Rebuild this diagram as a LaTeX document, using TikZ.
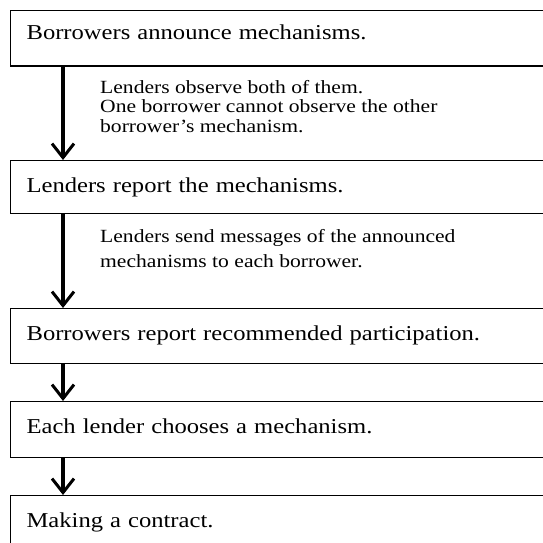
\documentclass[tikz,border=0pt]{standalone}
\usepackage{fontspec}
\setmainfont{Liberation Serif}[FakeStretch=1.16]
\usetikzlibrary{positioning, arrows.meta}

\begin{document}
\begin{tikzpicture}[
    x=1pt, y=-1pt,
    >={Straight Barb[length=14pt, width=22pt, line width=3pt]},
    stagebox/.style={draw=black, line width=1.2pt, anchor=north west,
        text height=32pt, text depth=23pt, inner ysep=0pt,
        text width=580pt, inner xsep=16pt, align=left,
        font=\fontsize{21.2}{25}\selectfont},
    notestyle/.style={anchor=north west, inner sep=0pt, align=left},
    flow/.style={->, line width=3.5pt}
  ]
    \useasboundingbox (0,0) rectangle (543,543);
    \clip (0,0) rectangle (543,543);
    \node[stagebox, text height=28.5pt, text depth=27pt] (announce) at (10,10) {Borrowers announce mechanisms.};
    \node[stagebox, text depth=21pt] (report) at (10,160) {Lenders report the mechanisms.};
    \node[stagebox] (recommend) at (10,308) {Borrowers report recommended participation.};
    \node[stagebox, text depth=24pt] (choose) at (10,401) {Each lender chooses a mechanism.};
    \node[stagebox, text depth=30pt] (contract) at (10,495) {Making a contract.};
    % arrows between the stages
    \draw[flow] ([xshift=53pt]announce.south west) -- ([xshift=53pt]report.north west);
    \draw[flow] ([xshift=53pt]report.south west) -- ([xshift=53pt]recommend.north west);
    \draw[flow] ([xshift=53pt]recommend.south west) -- ([xshift=53pt]choose.north west);
    \draw[flow] ([xshift=53pt]choose.south west) -- ([xshift=53pt]contract.north west);
    % notes beside the first two arrows
    \node[notestyle, font=\fontsize{18.6}{19.2}\selectfont] (observe) at (100,80.5)
        {Lenders observe both of them.\\
         One borrower cannot observe the other\\
         borrower's mechanism.};
    \node[notestyle, font=\fontsize{18.6}{25}\selectfont] (messages) at (100,229)
        {Lenders send messages of the announced\\
         mechanisms to each borrower.};
\end{tikzpicture}
\end{document}
